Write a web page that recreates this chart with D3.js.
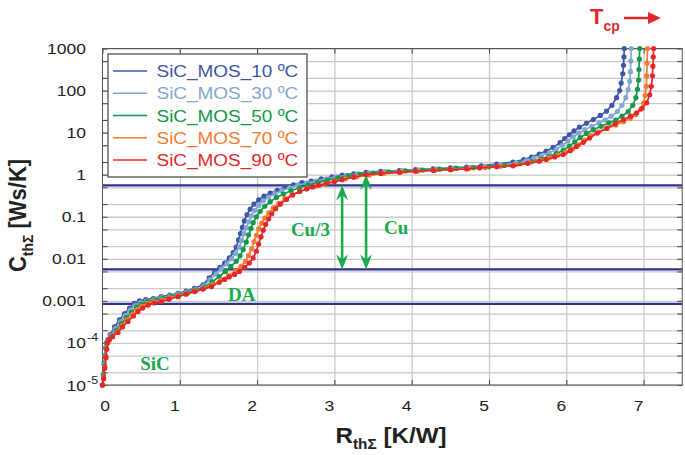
<!DOCTYPE html>
<html><head><meta charset="utf-8">
<script src="https://cdn.jsdelivr.net/npm/d3@7"></script>
<style>body{margin:0;background:#fff;}svg{display:block;font-family:"Liberation Sans",Arial,sans-serif;}</style>
</head><body>
<svg id="c" width="685" height="455"></svg>
<script>
// ---------- DATA ----------
const seriesNames = ["SiC_MOS_10 \u00baC","SiC_MOS_30 \u00baC","SiC_MOS_50 \u00baC","SiC_MOS_70 \u00baC","SiC_MOS_90 \u00baC"];
const seriesColors = ["#3f57a8","#84a6d2","#13994a","#f47b30","#e3282c"];
// points: [R_th (K/W), log10(C_th in Ws/K)]
const s10 = [[0,-5],[0.01,-4.75],[0.02,-4.5],[0.03,-4.3],[0.04,-4.12],[0.05,-4.0],[0.07,-3.92],[0.1,-3.8],[0.155,-3.62],[0.22,-3.45],[0.285,-3.3],[0.35,-3.17],[0.41,-3.06],[0.48,-3.0],[0.56,-2.97],[0.66,-2.94],[0.76,-2.9],[0.87,-2.86],[0.975,-2.82],[1.08,-2.77],[1.19,-2.7],[1.3,-2.62],[1.38,-2.45],[1.45,-2.32],[1.52,-2.2],[1.58,-2.1],[1.64,-1.98],[1.69,-1.85],[1.73,-1.72],[1.76,-1.55],[1.785,-1.4],[1.81,-1.25],[1.835,-1.1],[1.87,-0.95],[1.91,-0.82],[1.96,-0.7],[2.02,-0.6],[2.09,-0.51],[2.17,-0.44],[2.26,-0.37],[2.36,-0.3],[2.47,-0.24],[2.58,-0.19],[2.7,-0.15],[2.83,-0.1],[2.97,-0.05],[3.1,-0.01],[3.25,0.02],[3.41,0.055],[3.6,0.08],[3.84,0.1],[4.05,0.12],[4.28,0.14],[4.5,0.16],[4.71,0.18],[4.9,0.21],[5.1,0.25],[5.31,0.3],[5.45,0.36],[5.55,0.42],[5.65,0.49],[5.74,0.56],[5.83,0.65],[5.92,0.76],[5.98,0.86],[6.04,0.95],[6.1,1.04],[6.17,1.13],[6.26,1.22],[6.35,1.31],[6.44,1.41],[6.52,1.51],[6.59,1.65],[6.65,1.83],[6.69,2.0],[6.71,2.18],[6.73,2.4],[6.74,2.6],[6.745,2.8],[6.75,3.0]];
const s30 = [[0,-5],[0.012,-4.78],[0.024,-4.52],[0.035,-4.3],[0.046,-4.12],[0.056,-4.0],[0.075,-3.93],[0.11,-3.82],[0.165,-3.66],[0.23,-3.5],[0.295,-3.35],[0.36,-3.22],[0.42,-3.11],[0.49,-3.04],[0.57,-3.0],[0.67,-2.96],[0.77,-2.92],[0.88,-2.88],[0.98,-2.84],[1.09,-2.79],[1.2,-2.73],[1.31,-2.64],[1.39,-2.5],[1.47,-2.36],[1.54,-2.24],[1.61,-2.12],[1.67,-2.0],[1.72,-1.87],[1.77,-1.72],[1.8,-1.56],[1.83,-1.4],[1.86,-1.26],[1.89,-1.12],[1.925,-0.98],[1.97,-0.85],[2.02,-0.73],[2.08,-0.62],[2.15,-0.53],[2.23,-0.45],[2.32,-0.38],[2.42,-0.31],[2.53,-0.25],[2.64,-0.2],[2.76,-0.15],[2.89,-0.1],[3.02,-0.05],[3.16,-0.02],[3.3,0.02],[3.45,0.045],[3.65,0.075],[3.88,0.095],[4.1,0.115],[4.32,0.135],[4.55,0.155],[4.76,0.175],[4.95,0.2],[5.15,0.235],[5.35,0.28],[5.48,0.33],[5.58,0.39],[5.68,0.45],[5.78,0.52],[5.87,0.6],[5.95,0.7],[6.02,0.8],[6.09,0.9],[6.16,0.99],[6.24,1.07],[6.33,1.15],[6.42,1.23],[6.5,1.3],[6.58,1.39],[6.66,1.5],[6.72,1.65],[6.77,1.83],[6.8,2.02],[6.82,2.22],[6.83,2.45],[6.835,2.7],[6.84,3.0]];
const s50 = [[0,-5],[0.013,-4.8],[0.026,-4.55],[0.038,-4.32],[0.05,-4.13],[0.06,-4.0],[0.08,-3.94],[0.12,-3.84],[0.18,-3.7],[0.245,-3.54],[0.31,-3.4],[0.375,-3.27],[0.44,-3.15],[0.5,-3.08],[0.58,-3.02],[0.68,-2.98],[0.78,-2.94],[0.89,-2.9],[0.99,-2.86],[1.1,-2.81],[1.21,-2.75],[1.32,-2.67],[1.42,-2.55],[1.51,-2.42],[1.59,-2.3],[1.66,-2.18],[1.73,-2.06],[1.78,-1.93],[1.82,-1.78],[1.86,-1.6],[1.89,-1.43],[1.92,-1.28],[1.95,-1.14],[1.99,-1.0],[2.04,-0.87],[2.1,-0.75],[2.17,-0.64],[2.25,-0.54],[2.34,-0.46],[2.44,-0.38],[2.55,-0.31],[2.66,-0.25],[2.78,-0.19],[2.91,-0.13],[3.04,-0.08],[3.18,-0.03],[3.33,0.01],[3.5,0.04],[3.7,0.07],[3.92,0.09],[4.14,0.11],[4.36,0.13],[4.58,0.15],[4.8,0.17],[5.0,0.19],[5.2,0.22],[5.4,0.26],[5.55,0.31],[5.67,0.37],[5.77,0.43],[5.87,0.5],[5.96,0.58],[6.04,0.68],[6.11,0.78],[6.18,0.88],[6.26,0.98],[6.35,1.07],[6.45,1.15],[6.55,1.23],[6.64,1.3],[6.72,1.39],[6.8,1.5],[6.86,1.65],[6.9,1.83],[6.92,2.03],[6.935,2.25],[6.94,2.5],[6.945,2.75],[6.95,3.0]];
const s70 = [[0,-5],[0.014,-4.83],[0.028,-4.58],[0.041,-4.34],[0.052,-4.14],[0.062,-4.0],[0.085,-3.93],[0.125,-3.85],[0.19,-3.73],[0.255,-3.59],[0.32,-3.45],[0.39,-3.32],[0.45,-3.21],[0.51,-3.13],[0.585,-3.06],[0.67,-3.02],[0.77,-2.98],[0.87,-2.93],[0.98,-2.88],[1.09,-2.83],[1.2,-2.77],[1.31,-2.7],[1.42,-2.62],[1.53,-2.51],[1.63,-2.4],[1.72,-2.29],[1.79,-2.18],[1.85,-2.06],[1.89,-1.92],[1.93,-1.76],[1.96,-1.59],[1.99,-1.44],[2.02,-1.29],[2.06,-1.15],[2.1,-1.03],[2.15,-0.91],[2.21,-0.79],[2.28,-0.68],[2.36,-0.57],[2.45,-0.48],[2.55,-0.4],[2.65,-0.33],[2.76,-0.27],[2.88,-0.21],[3.0,-0.15],[3.14,-0.1],[3.29,-0.05],[3.45,-0.01],[3.64,0.03],[3.86,0.06],[4.08,0.085],[4.3,0.105],[4.52,0.125],[4.74,0.145],[4.95,0.17],[5.15,0.2],[5.35,0.24],[5.52,0.29],[5.66,0.34],[5.78,0.4],[5.89,0.46],[5.99,0.53],[6.08,0.61],[6.16,0.71],[6.24,0.82],[6.32,0.93],[6.42,1.02],[6.53,1.1],[6.64,1.18],[6.74,1.26],[6.83,1.34],[6.9,1.43],[6.96,1.55],[7.0,1.7],[7.02,1.88],[7.035,2.1],[7.04,2.35],[7.045,2.65],[7.05,3.0]];
const s90 = [[0,-5],[0.015,-4.85],[0.03,-4.6],[0.045,-4.35],[0.055,-4.15],[0.065,-4.0],[0.09,-3.92],[0.13,-3.85],[0.2,-3.75],[0.26,-3.62],[0.33,-3.49],[0.4,-3.36],[0.46,-3.25],[0.52,-3.17],[0.59,-3.1],[0.67,-3.05],[0.76,-3.02],[0.86,-2.96],[0.975,-2.9],[1.08,-2.84],[1.19,-2.78],[1.3,-2.72],[1.41,-2.66],[1.51,-2.56],[1.58,-2.49],[1.64,-2.43],[1.71,-2.37],[1.77,-2.3],[1.84,-2.2],[1.9,-2.1],[1.95,-1.98],[1.99,-1.82],[2.02,-1.65],[2.05,-1.48],[2.08,-1.32],[2.11,-1.18],[2.15,-1.05],[2.19,-0.93],[2.24,-0.81],[2.3,-0.7],[2.38,-0.59],[2.46,-0.48],[2.55,-0.4],[2.64,-0.34],[2.72,-0.29],[2.8,-0.25],[2.9,-0.21],[3.0,-0.17],[3.1,-0.12],[3.25,-0.06],[3.41,0.0],[3.6,0.03],[3.84,0.055],[4.05,0.08],[4.28,0.1],[4.5,0.12],[4.71,0.135],[4.88,0.16],[5.1,0.19],[5.31,0.21],[5.5,0.27],[5.65,0.32],[5.74,0.36],[5.85,0.42],[5.96,0.48],[6.05,0.57],[6.13,0.67],[6.22,0.77],[6.3,0.87],[6.4,0.99],[6.52,1.1],[6.63,1.21],[6.74,1.31],[6.83,1.39],[6.91,1.47],[6.98,1.58],[7.04,1.71],[7.08,1.9],[7.1,2.1],[7.115,2.35],[7.12,2.58],[7.125,2.8],[7.13,3.0]];
const seriesData = [s10, s30, s50, s70, s90];

const xTickValues = [0,1,2,3,4,5,6,7];
const yTickValues = [1000,100,10,1,0.1,0.01,0.001,1e-4,1e-5];
const yTickLabels = [["1000",""],["100",""],["10",""],["1",""],["0.1",""],["0.01",""],["0.001",""],["10","-4"],["10","-5"]];
const yGridMultipliers = [1,2,5];
const yDecades = [-5,-4,-3,-2,-1,0,1,2,3];
const refLines = [0.56, 0.0056, 0.00085];
const arrows = [{x:3.10, from:0.56, to:0.0056},{x:3.41, from:1.0, to:0.0056}];
const notes = [{t:"SiC", x:0.68, y:2.3e-5},{t:"DA", x:1.8, y:0.00098},{t:"Cu/3", x:2.69, y:0.035},{t:"Cu", x:3.8, y:0.039}];

// ---------- LAYOUT ----------
const X0=102.5, X1=682.25, Y0=385, Y1=48.5;
const x = d3.scaleLinear().domain([0,7.5]).range([X0,X1]);
const y = d3.scaleLog().domain([1e-5,1000]).range([Y0,Y1]);
const svg = d3.select("#c");
const green = "#1aaa4e", navy = "#2e3192", red = "#e3282c";

const gridY = [];
yDecades.forEach(e => yGridMultipliers.forEach(m => { const v = m*Math.pow(10,e); if (v<=1000.0001) gridY.push(v); }));

// gridlines
const gy = svg.append("g").attr("transform",`translate(${X0},0)`)
  .call(d3.axisLeft(y).tickValues(gridY).tickSize(-(X1-X0)).tickFormat(""));
gy.select(".domain").remove();
gy.selectAll("line").attr("stroke","#c9c9c9").attr("stroke-width",1.3);
const gx = svg.append("g").attr("transform",`translate(0,${Y0})`)
  .call(d3.axisBottom(x).tickValues(xTickValues.slice(1)).tickSize(-(Y0-Y1)).tickFormat(""));
gx.select(".domain").remove();
gx.selectAll("line").attr("stroke","#c9c9c9").attr("stroke-width",1.3);

// inward ticks
function ticks(axis, tr){
  const g = svg.append("g").attr("transform",tr).call(axis);
  g.select(".domain").remove();
  g.selectAll("line").attr("stroke","#444").attr("stroke-width",1);
  g.selectAll("text").remove();
}
ticks(d3.axisLeft(y).tickValues(gridY).tickSize(-5), `translate(${X0},0)`);
ticks(d3.axisRight(y).tickValues(gridY).tickSize(-5), `translate(${X1},0)`);
ticks(d3.axisBottom(x).tickValues(xTickValues).tickSize(-5), `translate(0,${Y0})`);
ticks(d3.axisTop(x).tickValues(xTickValues).tickSize(-5), `translate(0,${Y1})`);

// reference lines
svg.append("g").selectAll("line").data(refLines).join("line")
  .attr("x1",X0).attr("x2",X1).attr("y1",d=>y(d)).attr("y2",d=>y(d))
  .attr("stroke",navy).attr("stroke-width",2.2);

// frame
svg.append("rect").attr("x",X0).attr("y",Y1).attr("width",X1-X0).attr("height",Y0-Y1)
  .attr("fill","none").attr("stroke","#555").attr("stroke-width",1);

// series
const line = d3.line().x(d=>x(d[0])).y(d=>y(Math.pow(10,d[1])));
seriesData.forEach((data,i)=>{
  const g = svg.append("g");
  g.append("path").attr("d",line(data)).attr("fill","none").attr("stroke",seriesColors[i]).attr("stroke-width",1.7);
  g.selectAll("circle").data(data).join("circle")
    .attr("cx",d=>x(d[0])).attr("cy",d=>y(Math.pow(10,d[1]))).attr("r",2.6).attr("fill",seriesColors[i]);
});

// arrows
function arrowHead(g, xp, yp, dir){
  const L=15, w=6, n=10;
  g.append("path").attr("d",`M${xp},${yp} L${xp-w},${yp-dir*L} L${xp},${yp-dir*n} L${xp+w},${yp-dir*L} Z`).attr("fill",green);
}
arrows.forEach(a=>{
  const g = svg.append("g");
  const xp=x(a.x), yt=y(a.from), yb=y(a.to);
  g.append("line").attr("x1",xp).attr("x2",xp).attr("y1",yt+8).attr("y2",yb-8).attr("stroke",green).attr("stroke-width",2.6);
  arrowHead(g,xp,yt,-1); arrowHead(g,xp,yb,1);
});
svg.append("g").selectAll("text").data(notes).join("text")
  .attr("x",d=>x(d.x)).attr("y",d=>y(d.y)).attr("text-anchor","middle")
  .attr("font-family","'Liberation Serif','DejaVu Serif',serif").attr("font-weight","bold")
  .attr("font-size",19).attr("fill",green).text(d=>d.t);

// tick labels (stretched horizontally like the reference)
const SX=1.13;
xTickValues.forEach(v=>{
  const xp = v===0 ? x(v)+2.5 : x(v)-5;
  svg.append("text").attr("transform",`translate(${xp},410.5) scale(${SX},1)`)
    .attr("text-anchor","middle").attr("font-size",15.5).attr("fill","#222").text(v);
});
yTickValues.forEach((v,i)=>{
  const [b,s]=yTickLabels[i];
  const yp=y(v)+5.5;
  svg.append("text").attr("transform",`translate(86,${yp}) scale(${SX},1)`)
    .attr("text-anchor","end").attr("font-size",15.5).attr("fill","#222").text(b);
  if(s) svg.append("text").attr("transform",`translate(87,${yp-7}) scale(${SX},1)`)
    .attr("font-size",11).attr("fill","#222").text(s);
});

// axis titles
const xt = svg.append("text").attr("transform",`translate(391,443) scale(1.1,1)`).attr("text-anchor","middle")
  .attr("font-weight","bold").attr("font-size",22).attr("fill","#222");
xt.append("tspan").text("R");
xt.append("tspan").attr("font-size",14).attr("dy",6).text("th\u03a3");
xt.append("tspan").attr("dy",-6).text(" [K/W]");
const yt = svg.append("text").attr("transform",`translate(26,215.5) scale(1.1,1) rotate(-90)`).attr("text-anchor","middle")
  .attr("font-weight","bold").attr("font-size",22).attr("fill","#222");
yt.append("tspan").text("C");
yt.append("tspan").attr("font-size",14).attr("dy",6).text("th\u03a3");
yt.append("tspan").attr("dy",-6).text(" [Ws/K]");

// T_cp
const tc = svg.append("text").attr("x",590).attr("y",24).attr("font-weight","bold").attr("font-size",22).attr("fill",red);
tc.append("tspan").text("T");
tc.append("tspan").attr("font-size",14).attr("dy",7).text("cp");
svg.append("line").attr("x1",624).attr("x2",650).attr("y1",18).attr("y2",18).attr("stroke",red).attr("stroke-width",2.5);
svg.append("path").attr("d","M661,18 L648,12 L648,24 Z").attr("fill",red);

// legend
const lg = svg.append("g");
lg.append("rect").attr("x",108).attr("y",54).attr("width",199).attr("height",123)
  .attr("fill","#fff").attr("stroke","#444").attr("stroke-width",1.2);
seriesNames.forEach((n,i)=>{
  const cy = 71 + i*22.25;
  lg.append("line").attr("x1",113).attr("x2",147).attr("y1",cy).attr("y2",cy).attr("stroke",seriesColors[i]).attr("stroke-width",1.6);
  lg.append("text").attr("transform",`translate(156.5,${cy+6}) scale(1.115,1)`).attr("font-size",17).attr("fill",seriesColors[i]).text(n);
});
</script>
</body></html>
